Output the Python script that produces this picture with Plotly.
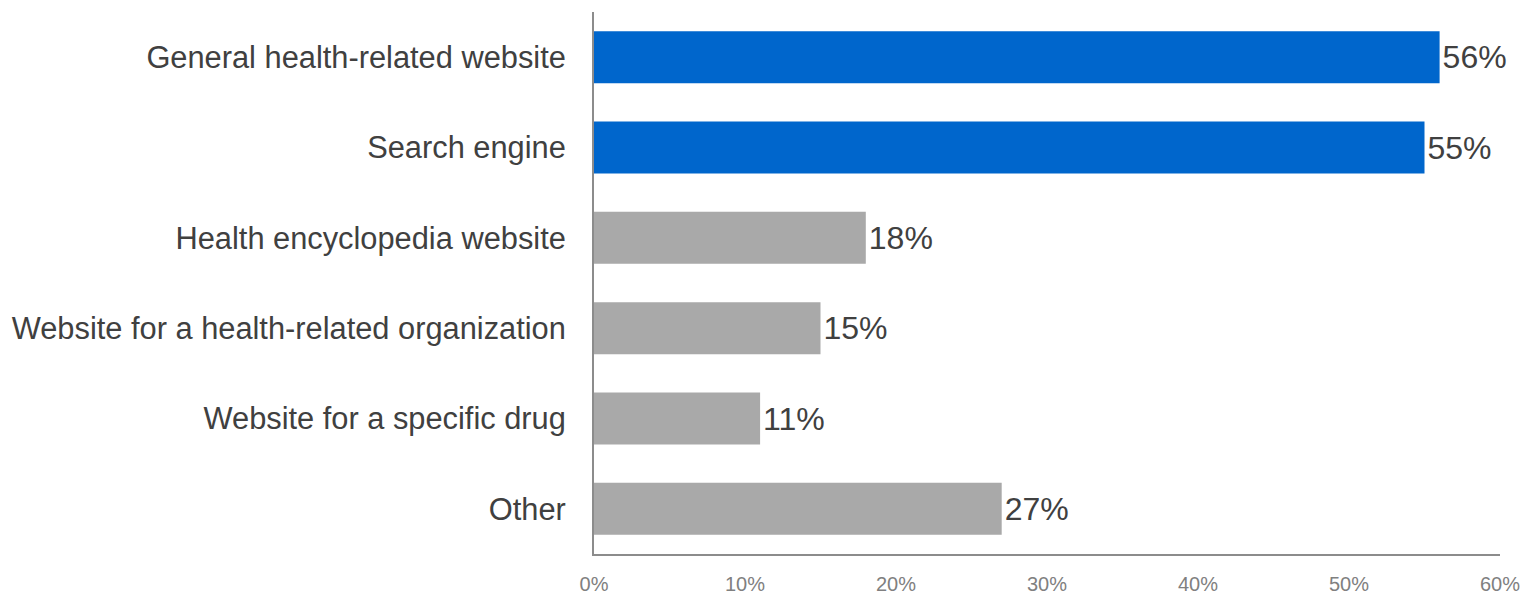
import plotly.graph_objects as go

# Online sources used, top to bottom
sources = [
    "General health-related website",
    "Search engine",
    "Health encyclopedia website",
    "Website for a health-related organization",
    "Website for a specific drug",
    "Other",
]
shares = [56, 55, 18, 15, 11, 27]
highlight = [True, True, False, False, False, False]

tick_vals = [0, 10, 20, 30, 40, 50, 60]
tick_text = ["0%", "10%", "20%", "30%", "40%", "50%", "60%"]

BLUE = "#0066CC"
GREY = "#A9A9A9"
TEXT = "#404040"
AXIS = "#8C8C8C"

bar_colors = [BLUE if h else GREY for h in highlight]

fig = go.Figure(
    go.Bar(
        x=shares,
        y=sources,
        orientation="h",
        marker=dict(color=bar_colors, line=dict(width=0)),
        text=[f"{v}%" for v in shares],
        textposition="outside",
        textfont=dict(family="Liberation Sans, Arial, sans-serif", size=32, color=TEXT),
        cliponaxis=False,
        hoverinfo="skip",
    )
)

fig.update_layout(
    width=1530,
    height=597,
    margin=dict(l=594, r=30, t=12, b=43, autoexpand=False),
    paper_bgcolor="white",
    plot_bgcolor="white",
    bargap=0.425,
    showlegend=False,
    font=dict(family="Liberation Sans, Arial, sans-serif", color=TEXT),
)

fig.update_xaxes(
    range=[0, 60],
    tickvals=tick_vals,
    ticktext=tick_text,
    tickfont=dict(size=20, color="#808080"),
    showgrid=False,
    zeroline=False,
    showline=True,
    linecolor=AXIS,
    linewidth=2,
    ticks="",
    ticklabelstandoff=11,
    automargin=False,
    fixedrange=True,
)

fig.update_yaxes(
    categoryorder="array",
    categoryarray=sources,
    autorange="reversed",
    tickfont=dict(size=30.8, color=TEXT),
    showgrid=False,
    zeroline=False,
    showline=True,
    linecolor=AXIS,
    linewidth=2,
    ticks="",
    ticklabelstandoff=20,
    automargin=False,
    fixedrange=True,
)

fig.write_html("out.html", config={"displayModeBar": False})
